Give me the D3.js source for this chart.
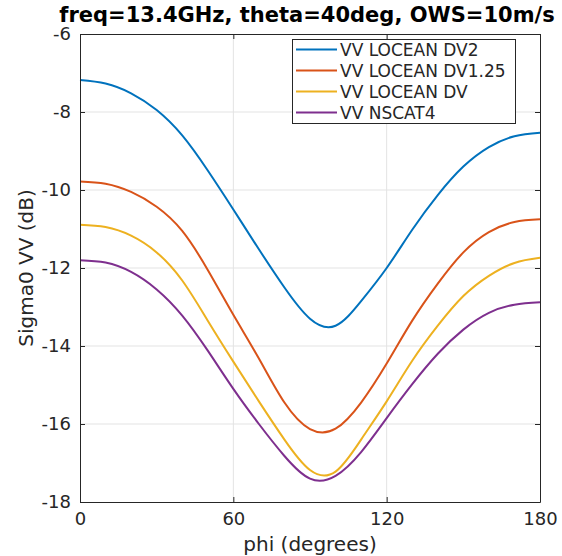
<!DOCTYPE html>
<html>
<head>
<meta charset="utf-8">
<script src="https://cdn.jsdelivr.net/npm/d3@7"></script>
<style>
  body { margin: 0; background: #fff; }
  text { font-family: "DejaVu Sans", sans-serif; fill: #262626; }
</style>
</head>
<body>
<div id="chart"></div>
<script>
var width = 562,
  height = 556;

// chart values
var phi = [0, 10, 20, 30, 40, 50, 60, 70, 80, 90, 100, 110, 120, 130, 140, 150, 160, 170, 180];
var dv2 = [-7.18, -7.27, -7.52, -7.95, -8.6, -9.5, -10.5, -11.52, -12.5, -13.3, -13.48, -12.85, -12.0, -11.02, -10.13, -9.4, -8.9, -8.62, -8.53];
var dv125 = [-9.78, -9.84, -10.05, -10.43, -11.05, -12.05, -13.2, -14.32, -15.45, -16.13, -16.12, -15.45, -14.45, -13.35, -12.4, -11.6, -11.08, -10.82, -10.75];
var dv = [-10.89, -10.95, -11.17, -11.6, -12.32, -13.35, -14.4, -15.42, -16.4, -17.18, -17.22, -16.4, -15.42, -14.38, -13.48, -12.72, -12.2, -11.87, -11.74];
var nscat4 = [-11.8, -11.86, -12.1, -12.55, -13.22, -14.12, -15.1, -16.0, -16.82, -17.4, -17.33, -16.72, -15.85, -14.98, -14.2, -13.58, -13.15, -12.94, -12.88];
var seriesNames = ["VV LOCEAN DV2", "VV LOCEAN DV1.25", "VV LOCEAN DV", "VV NSCAT4"];
var seriesColors = ["#0072BD", "#D95319", "#EDB120", "#7E2F8E"];
var xTicks = [0, 60, 120, 180];
var yTicks = [-18, -16, -14, -12, -10, -8, -6];

var series = [dv2, dv125, dv, nscat4];

var plotLeft = 80, plotRight = 540, plotTop = 34, plotBottom = 502;

var svg = d3.select( "#chart" )
  .append( "svg" )
  .attr( "width", width )
  .attr( "height", height );

var x = d3.scaleLinear().domain( [0, 180] ).range( [plotLeft, plotRight] );
var y = d3.scaleLinear().domain( [-18, -6] ).range( [plotBottom, plotTop] );

// grid
var grid = svg.append( "g" );
grid.selectAll( "line.gx" )
  .data( xTicks.slice(1, -1) )
  .enter()
  .append( "line" )
  .attr( "x1", function(d){ return x(d); } )
  .attr( "x2", function(d){ return x(d); } )
  .attr( "y1", plotTop )
  .attr( "y2", plotBottom )
  .attr( "stroke", "#e3e3e3" )
  .attr( "stroke-width", 1 );
grid.selectAll( "line.gy" )
  .data( yTicks.slice(1, -1) )
  .enter()
  .append( "line" )
  .attr( "x1", plotLeft )
  .attr( "x2", plotRight )
  .attr( "y1", function(d){ return y(d); } )
  .attr( "y2", function(d){ return y(d); } )
  .attr( "stroke", "#e3e3e3" )
  .attr( "stroke-width", 1 );

// curves
var line = d3.line()
  .x( function(d, i){ return x(phi[i]); } )
  .y( function(d){ return y(d); } )
  .curve( d3.curveNatural );

svg.append( "g" )
  .selectAll( "path" )
  .data( series )
  .enter()
  .append( "path" )
  .attr( "fill", "none" )
  .attr( "stroke", function(d, i){ return seriesColors[i]; } )
  .attr( "stroke-width", 2 )
  .attr( "d", line );

// axes (ticks inside, box on)
var fontTick = "18px";
var xAxis = svg.append( "g" )
  .attr( "transform", "translate(0," + plotBottom + ")" )
  .call( d3.axisBottom(x).tickValues(xTicks).tickSizeInner(-5).tickSizeOuter(0).tickPadding(10) );
var xAxisTop = svg.append( "g" )
  .attr( "transform", "translate(0," + plotTop + ")" )
  .call( d3.axisTop(x).tickValues(xTicks).tickSizeInner(-5).tickSizeOuter(0).tickFormat("") );
var yAxis = svg.append( "g" )
  .attr( "transform", "translate(" + plotLeft + ",0)" )
  .call( d3.axisLeft(y).tickValues(yTicks).tickSizeInner(-5).tickSizeOuter(0).tickPadding(9) );
var yAxisRight = svg.append( "g" )
  .attr( "transform", "translate(" + plotRight + ",0)" )
  .call( d3.axisRight(y).tickValues(yTicks).tickSizeInner(-5).tickSizeOuter(0).tickFormat("") );

[xAxis, xAxisTop, yAxis, yAxisRight].forEach(function(a){
  a.select( ".domain" ).attr( "stroke", "#262626" ).attr( "stroke-width", 1 );
  a.selectAll( ".tick line" ).attr( "stroke", "#262626" );
  a.selectAll( ".tick text" )
    .attr( "fill", "#262626" )
    .style( "font-family", "DejaVu Sans" )
    .style( "font-size", fontTick );
});
yAxis.selectAll( ".tick text" ).text( function(d){ return d; } );

// labels
svg.append( "text" )
  .attr( "x", 307 )
  .attr( "y", 22 )
  .attr( "text-anchor", "middle" )
  .style( "font-size", "21px" )
  .style( "font-weight", "bold" )
  .style( "fill", "#000" )
  .text( "freq=13.4GHz, theta=40deg, OWS=10m/s" );

svg.append( "text" )
  .attr( "x", 310 )
  .attr( "y", 551 )
  .attr( "text-anchor", "middle" )
  .style( "font-size", "20px" )
  .text( "phi (degrees)" );

svg.append( "text" )
  .attr( "transform", "translate(33," + ((plotTop + plotBottom) / 2) + ") rotate(-90)" )
  .attr( "text-anchor", "middle" )
  .style( "font-size", "20px" )
  .text( "Sigma0 VV (dB)" );

// legend
var legend = svg.append( "g" );
legend.append( "rect" )
  .attr( "x", 292.5 )
  .attr( "y", 39.5 )
  .attr( "width", 223 )
  .attr( "height", 84 )
  .attr( "fill", "#fff" )
  .attr( "stroke", "#262626" )
  .attr( "stroke-width", 1 );

var items = legend.selectAll( "g.item" )
  .data( seriesNames )
  .enter()
  .append( "g" )
  .attr( "transform", function(d, i){ return "translate(0," + (49.5 + i * 21) + ")"; } );
items.append( "line" )
  .attr( "x1", 296 )
  .attr( "x2", 337 )
  .attr( "stroke", function(d, i){ return seriesColors[i]; } )
  .attr( "stroke-width", 2 );
items.append( "text" )
  .attr( "x", 340 )
  .attr( "dy", "0.36em" )
  .style( "font-size", "17px" )
  .text( function(d){ return d; } );
</script>
</body>
</html>
